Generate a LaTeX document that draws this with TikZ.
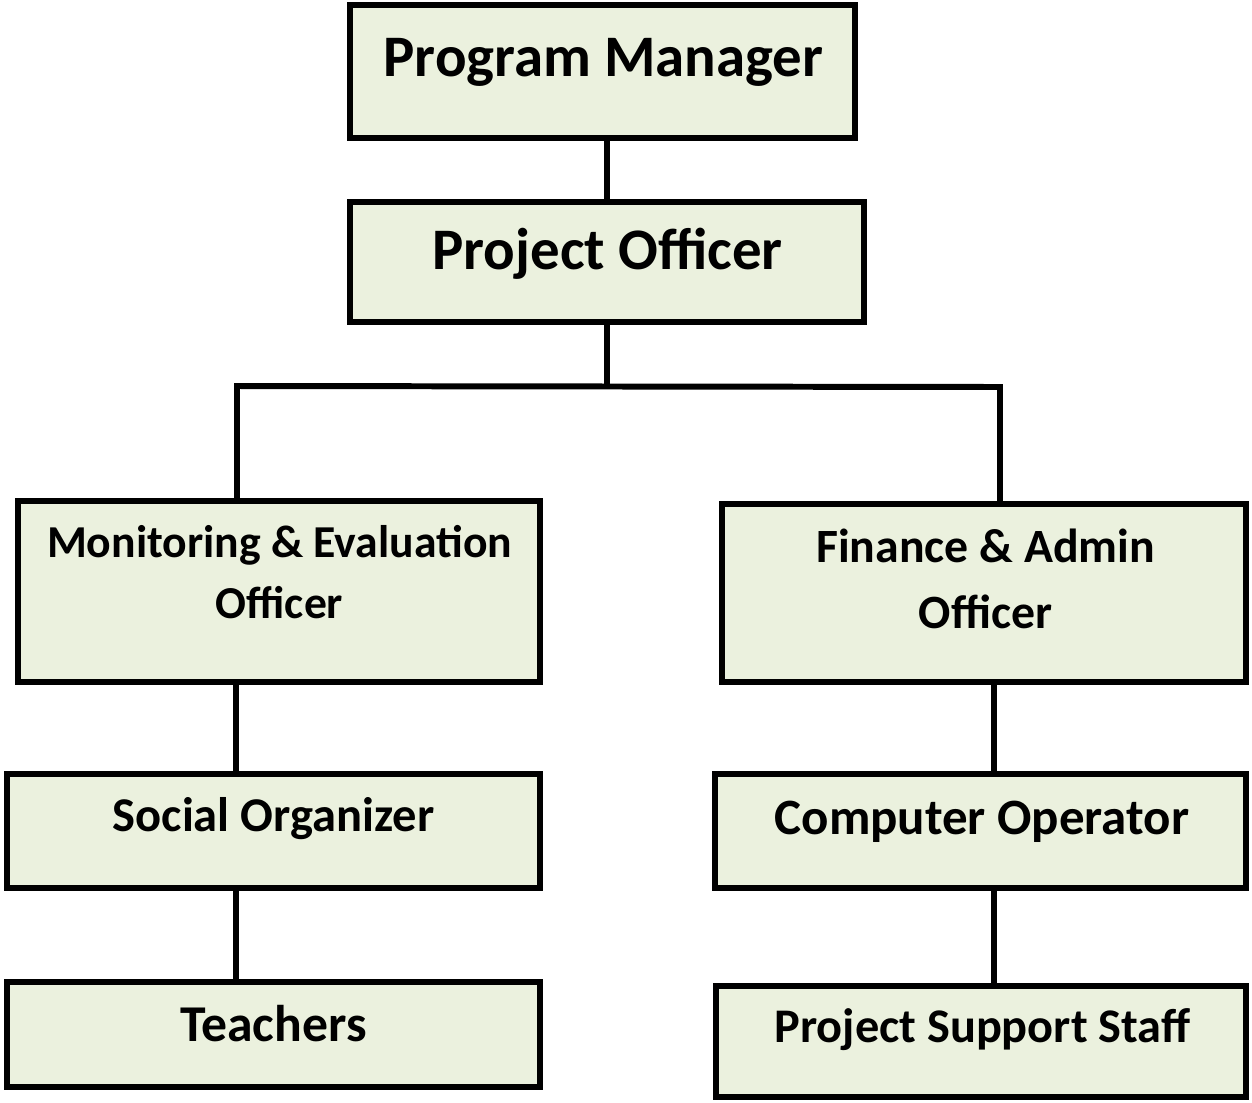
\documentclass[tikz,border=0pt]{standalone}
\usepackage{fontspec}
\setmainfont{Carlito}
\definecolor{boxgreen}{HTML}{EBF1DE}
\tikzset{
    box/.style={rectangle, draw, fill=boxgreen, line width=3.4pt, inner sep=0pt},
    lbl/.style={align=center, inner sep=0pt},
    sz/.style={font=\bfseries\fontsize{#1}{#1}\selectfont,
        text height=0.75*#1pt, text depth=0.1*#1pt},
    twolines/.style 2 args={font=\bfseries\fontsize{#1}{#2}\selectfont},
    link/.style={line width=3.4pt, line join=miter}
}

\begin{document}
\begin{tikzpicture}[x=0.02cm, y=-0.02cm]
	\useasboundingbox (0,0) rectangle (1252,1103);
	\node [box, minimum width=10.1cm, minimum height=2.66cm] (pm) at (602.5,71.5) {};
	\node [box, minimum width=10.28cm, minimum height=2.4cm] (po) at (607,262) {};
	\node [box, minimum width=10.44cm, minimum height=3.62cm] (me) at (279,591.5) {};
	\node [box, minimum width=10.48cm, minimum height=3.56cm] (fa) at (984,593) {};
	\node [box, minimum width=10.66cm, minimum height=2.28cm] (so) at (273.5,831) {};
	\node [box, minimum width=10.62cm, minimum height=2.28cm] (co) at (980.5,831) {};
	\node [box, minimum width=10.66cm, minimum height=2.1cm] (te) at (273.5,1034.5) {};
	\node [box, minimum width=10.6cm, minimum height=2.22cm] (ps) at (981,1041.5) {};
	\node [lbl, sz=33.5] (pmtext) at (603.5,57) {Program Manager};
	\node [lbl, sz=33.5] (potext) at (607.5,250) {Project Officer};
	\node [lbl, twolines={26}{35}] (metext) at (279.5,572) {Monitoring \& Evaluation\\Officer};
	\node [lbl, twolines={27.2}{37.5}] (fatext) at (985.5,579) {Finance \& Admin\\Officer};
	\node [lbl, sz=27.6] (sotext) at (273.5,816) {Social Organizer};
	\node [lbl, sz=29] (cotext) at (982,818) {Computer Operator};
	\node [lbl, sz=29.4] (tetext) at (273.5,1025) {Teachers};
	\node [lbl, sz=27.5] (pstext) at (982.5,1027) {Project Support Staff};
	\coordinate (busl) at (237,386);
	\coordinate (busr) at (1000,387);
	\coordinate (lx) at (236,0);
	\coordinate (rx) at (994,0);
	\draw [link] (po.north) -- (po.north |- pm.south);
	\draw [link] (po.south) -- (po.south |- busl);
	\draw [link] (busl |- me.north) -- (busl) -- (busr) -- (busr |- fa.north);
	\draw [link] (me.south -| lx) -- (so.north -| lx);
	\draw [link] (so.south -| lx) -- (te.north -| lx);
	\draw [link] (fa.south -| rx) -- (co.north -| rx);
	\draw [link] (co.south -| rx) -- (ps.north -| rx);
\end{tikzpicture}
\end{document}
